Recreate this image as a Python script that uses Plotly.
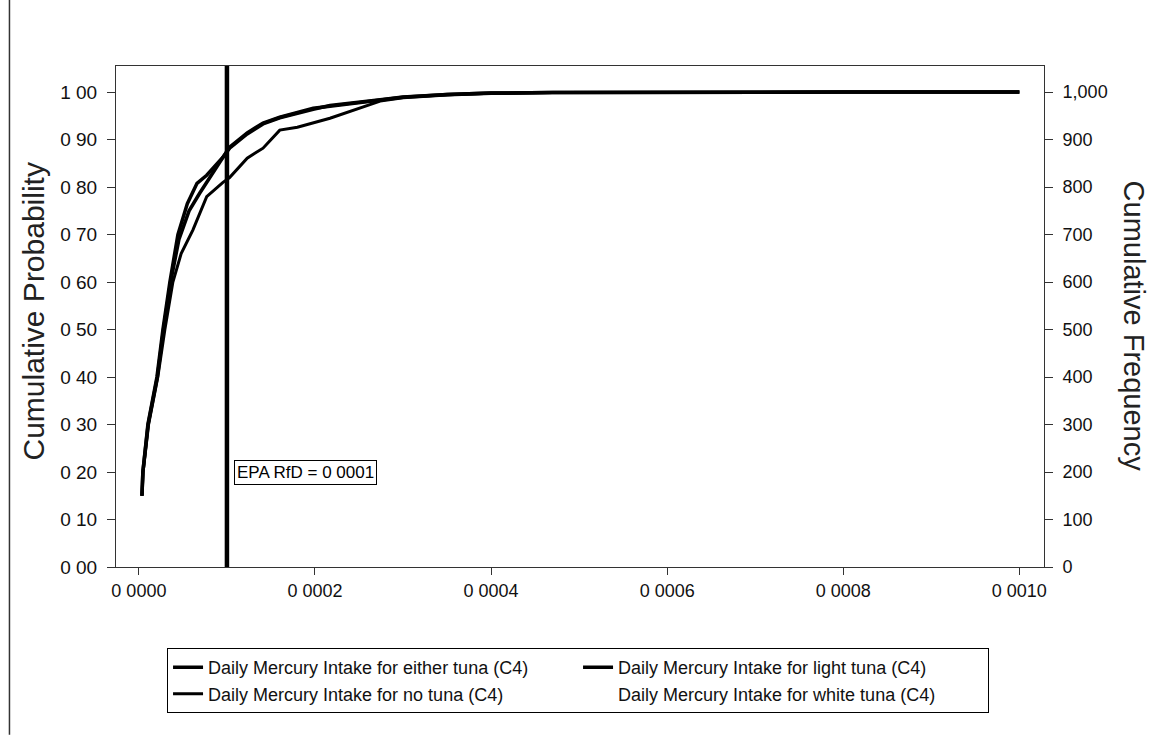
import plotly.graph_objects as go

# Data (daily mercury intake vs cumulative probability)
either_x = [0.0000035, 0.0000045, 0.0000102, 0.0000205, 0.0000273, 0.0000352, 0.0000443,
            0.000055, 0.000066, 0.000077, 0.0000955, 0.000103, 0.000123, 0.000141, 0.00016,
            0.000198, 0.000217, 0.000274, 0.0003, 0.00035, 0.0004, 0.00047, 0.0006, 0.0008, 0.001]
either_y = [0.15, 0.20, 0.30, 0.40, 0.50, 0.60, 0.70, 0.765, 0.808, 0.825, 0.863, 0.884,
            0.914, 0.935, 0.947, 0.966, 0.970, 0.983, 0.989, 0.995, 0.998, 0.999, 1.0, 1.0, 1.0]

light_x = [0.0000035, 0.0000045, 0.0000105, 0.000021, 0.000028, 0.000036, 0.0000455,
           0.000057, 0.000069, 0.000082, 0.0000955, 0.000103, 0.000123, 0.000141, 0.00016,
           0.000198, 0.000217, 0.000274, 0.0003, 0.00035, 0.0004, 0.00047, 0.0006, 0.0008, 0.001]
light_y = [0.15, 0.20, 0.30, 0.40, 0.50, 0.60, 0.69, 0.75, 0.787, 0.825, 0.863, 0.882,
           0.912, 0.933, 0.946, 0.964, 0.972, 0.984, 0.990, 0.995, 0.998, 0.999, 1.0, 1.0, 1.0]

none_x = [0.0000035, 0.0000048, 0.000011, 0.0000215, 0.0000295, 0.0000386, 0.000048,
          0.000058, 0.0000614, 0.000077, 0.0000955, 0.000103, 0.000123, 0.000141, 0.00016,
          0.00018, 0.000217, 0.000274, 0.0003, 0.00035, 0.0004, 0.00047, 0.0006, 0.0008, 0.001]
none_y = [0.15, 0.20, 0.30, 0.40, 0.50, 0.60, 0.66, 0.70, 0.71, 0.78, 0.81, 0.82,
          0.861, 0.882, 0.92, 0.926, 0.945, 0.981, 0.988, 0.994, 0.997, 0.999, 1.0, 1.0, 1.0]

white_x = [0.0000035, 0.00001, 0.00003, 0.00006, 0.0001, 0.00015, 0.0002, 0.0003, 0.0005, 0.001]
white_y = [0.15, 0.30, 0.55, 0.75, 0.85, 0.92, 0.96, 0.99, 1.0, 1.0]

series_names = ["Daily Mercury Intake for either tuna (C4)",
                "Daily Mercury Intake for light tuna (C4)",
                "Daily Mercury Intake for no tuna (C4)",
                "Daily Mercury Intake for white tuna (C4)"]

y_tick_vals = [0.0, 0.1, 0.2, 0.3, 0.4, 0.5, 0.6, 0.7, 0.8, 0.9, 1.0]
y_tick_text = ["0 00", "0 10", "0 20", "0 30", "0 40", "0 50", "0 60", "0 70", "0 80", "0 90", "1 00"]
x_tick_vals = [0.0, 0.0002, 0.0004, 0.0006, 0.0008, 0.0010]
x_tick_text = ["0 0000", "0 0002", "0 0004", "0 0006", "0 0008", "0 0010"]
freq_ticks = [0, 100, 200, 300, 400, 500, 600, 700, 800, 900, 1000]
rfd = 0.0001
rfd_label = "EPA RfD = 0 0001"

FONT = "Liberation Sans, Arial, sans-serif"
INK = "#111111"

fig = go.Figure()
fig.add_trace(go.Scatter(x=white_x, y=white_y, mode="lines", name=series_names[3],
                         line=dict(color="white", width=3), legendrank=4))
fig.add_trace(go.Scatter(x=either_x, y=either_y, mode="lines", name=series_names[0],
                         line=dict(color="black", width=3.5), legendrank=1))
fig.add_trace(go.Scatter(x=light_x, y=light_y, mode="lines", name=series_names[1],
                         line=dict(color="black", width=3.5), legendrank=2))
fig.add_trace(go.Scatter(x=none_x, y=none_y, mode="lines", name=series_names[2],
                         line=dict(color="black", width=3), legendrank=3))
# invisible trace to drive the right axis
fig.add_trace(go.Scatter(x=[None], y=[None], yaxis="y2", showlegend=False, hoverinfo="skip"))

fig.add_shape(type="line", x0=rfd, x1=rfd, y0=0, y1=1, xref="x", yref="paper",
              line=dict(color="black", width=4.5))
fig.add_annotation(x=rfd, y=0.2, xref="x", yref="y", text=rfd_label, showarrow=False,
                   xanchor="left", yanchor="middle", xshift=7,
                   font=dict(family=FONT, size=17, color="black"),
                   bordercolor="black", borderwidth=1, borderpad=2, bgcolor="white")

# scan border line on the left
fig.add_shape(type="line", x0=-0.1148, x1=-0.1148, y0=-0.335, y1=1.32, xref="paper", yref="paper",
              line=dict(color="#333333", width=1.5))

fig.add_annotation(text="Cumulative Probability", xref="paper", yref="paper",
                   x=-0.0894, y=0.51, xanchor="center", yanchor="middle",
                   textangle=-90, showarrow=False,
                   font=dict(family=FONT, size=30, color="#222222"))
fig.add_annotation(text="Cumulative Frequency", xref="paper", yref="paper",
                   x=1.098, y=0.48, xanchor="center", yanchor="middle",
                   textangle=90, showarrow=False,
                   font=dict(family=FONT, size=29, color="#222222"))

fig.update_layout(
    width=1153, height=737,
    margin=dict(l=116, r=109, t=66, b=170),
    paper_bgcolor="white", plot_bgcolor="white",
    font=dict(family=FONT, size=18, color=INK),
    showlegend=True,
    legend=dict(orientation="h", x=0.055, y=-0.162, xanchor="left", yanchor="top",
                bordercolor="black", borderwidth=1, bgcolor="white",
                entrywidth=365, entrywidthmode="pixels", traceorder="normal",
                font=dict(family=FONT, size=18, color=INK), itemwidth=30),
    xaxis=dict(range=[-0.000026, 0.001028], tickvals=x_tick_vals, ticktext=x_tick_text,
               ticks="outside", ticklen=7, tickcolor="#333333", showgrid=False, zeroline=False,
               showline=True, linecolor="#333333", linewidth=1, mirror=True,
               tickfont=dict(family=FONT, size=18, color=INK)),
    yaxis=dict(range=[0, 1.055], tickvals=y_tick_vals, ticktext=y_tick_text,
               ticks="outside", ticklen=8, tickcolor="#333333", showgrid=False, zeroline=False,
               showline=True, linecolor="#333333", linewidth=1, mirror=True,
               ticklabelstandoff=6,
               tickfont=dict(family=FONT, size=19, color=INK)),
    yaxis2=dict(range=[0, 1055], overlaying="y", side="right", tickvals=freq_ticks,
                tickformat=",", ticks="outside", ticklen=8, tickcolor="#333333",
                showgrid=False, zeroline=False, showline=False, ticklabelstandoff=6,
                tickfont=dict(family=FONT, size=18, color=INK)),
)

fig.write_html("out.html")
